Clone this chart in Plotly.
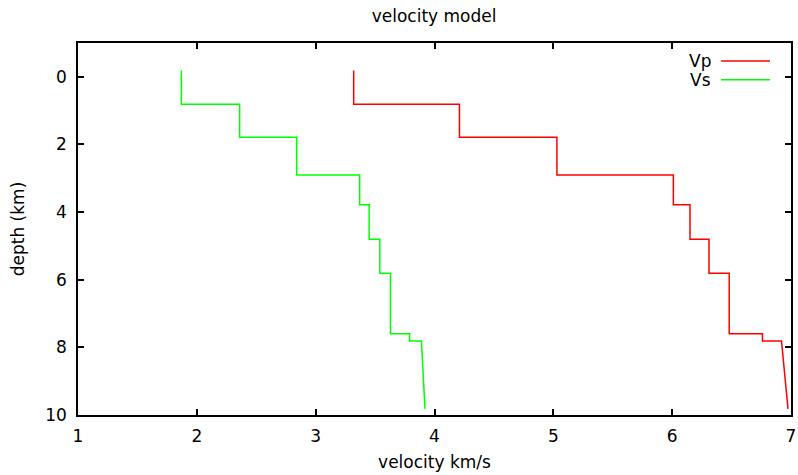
import plotly.graph_objects as go

# Layer data
layer_top = [-0.19, 0.81, 1.79, 2.90, 3.78, 4.80, 5.81, 7.60, 7.81]
vp = [3.32, 4.21, 5.03, 6.01, 6.15, 6.31, 6.48, 6.76, 6.92]
vs = [1.87, 2.36, 2.84, 3.37, 3.45, 3.54, 3.63, 3.79, 3.89]
bottom_depth = 9.82
vp_bottom = 6.975
vs_bottom = 3.92

x_ticks = [1, 2, 3, 4, 5, 6, 7]
y_ticks = [0, 2, 4, 6, 8, 10]


def step_profile(vel, v_end):
    xs, ys = [], []
    n = len(vel)
    for i in range(n):
        xs.append(vel[i]); ys.append(layer_top[i])
        if i < n - 1:
            xs.append(vel[i]); ys.append(layer_top[i + 1])
        else:
            xs.append(v_end); ys.append(bottom_depth)
    return xs, ys


px, py = step_profile(vp, vp_bottom)
sx, sy = step_profile(vs, vs_bottom)

FONT = "DejaVu Sans"
RED = "#ff0000"
GREEN = "#00ff00"
FS = 17

fig = go.Figure()
fig.add_trace(go.Scatter(x=px, y=py, mode="lines", name="Vp",
                         line=dict(color=RED, width=1.5), showlegend=False))
fig.add_trace(go.Scatter(x=sx, y=sy, mode="lines", name="Vs",
                         line=dict(color=GREEN, width=1.5), showlegend=False))

axis_common = dict(showgrid=False, zeroline=False, showline=True, linecolor="black",
                   linewidth=1.5, mirror="allticks", ticks="inside", ticklen=6,
                   tickwidth=1.5, tickcolor="black", automargin=False,
                   tickfont=dict(family=FONT, size=FS, color="black"))

fig.update_layout(
    width=798, height=475,
    margin=dict(l=78, r=7, t=43, b=60),
    paper_bgcolor="white", plot_bgcolor="white",
    title=dict(text="velocity model", x=0.544, xanchor="center", y=0.966, yanchor="middle",
               font=dict(family=FONT, size=FS, color="black")),
    xaxis=dict(range=[1, 7], tickvals=x_ticks, ticklabelstandoff=5,
               title=dict(text="velocity km/s", font=dict(family=FONT, size=FS, color="black"), standoff=11),
               **axis_common),
    yaxis=dict(range=[10, -1], tickvals=y_ticks, ticklabelstandoff=6,
               title=dict(text="depth (km)", font=dict(family=FONT, size=FS, color="black"), standoff=16),
               **axis_common),
    font=dict(family=FONT, size=FS, color="black"),
)

# Gnuplot-style legend (label left, sample line right)
legend_items = [("Vp", RED, 0.9517), ("Vs", GREEN, 0.9014)]
for label, color, yy in legend_items:
    fig.add_annotation(xref="paper", yref="paper", x=0.891, y=yy, text=label,
                       showarrow=False, xanchor="right", yanchor="middle",
                       font=dict(family=FONT, size=FS, color="black"))
    fig.add_shape(type="line", xref="paper", yref="paper", x0=0.902, x1=0.9705,
                  y0=yy, y1=yy, line=dict(color=color, width=1.5))

fig.write_html("out.html")
